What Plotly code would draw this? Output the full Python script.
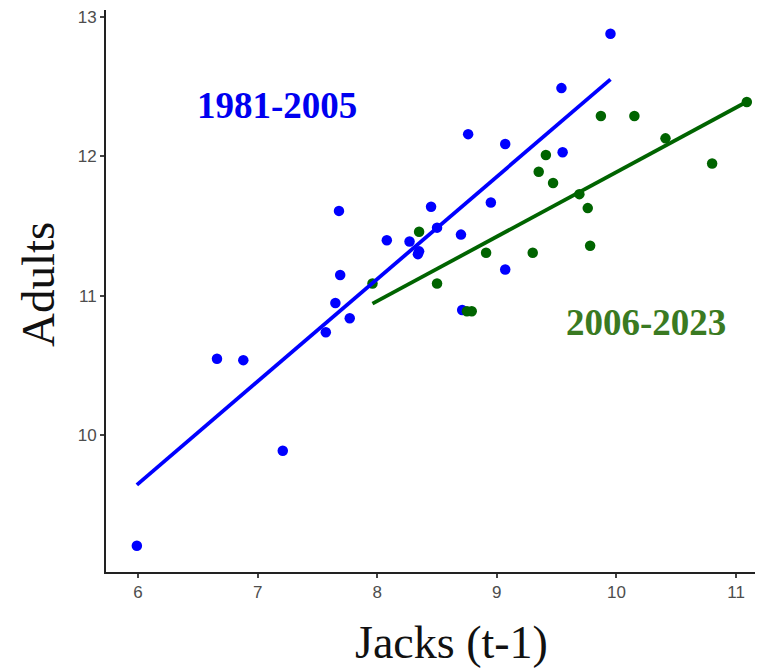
import numpy as np
import plotly.graph_objects as go

# 1981-2005 (blue)
jacks_early = [5.99, 6.66, 6.88, 7.21, 7.57, 7.65, 7.68, 7.69, 7.77, 8.08, 8.27, 8.35, 8.34,
               8.45, 8.50, 8.70, 8.71, 8.76, 8.95, 9.07, 9.07, 9.54, 9.55, 9.95]
adults_early = [9.21, 10.55, 10.54, 9.89, 10.74, 10.95, 11.61, 11.15, 10.84, 11.40, 11.39, 11.32, 11.30,
                11.64, 11.49, 11.44, 10.90, 12.16, 11.67, 12.09, 11.19, 12.49, 12.03, 12.88]

# 2006-2023 (green)
jacks_late = [7.96, 8.35, 8.50, 8.75, 8.79, 8.91, 9.30, 9.35, 9.41, 9.47, 9.69, 9.76, 9.78,
              9.87, 10.15, 10.41, 10.80, 11.09]
adults_late = [11.09, 11.46, 11.09, 10.89, 10.89, 11.31, 11.31, 11.89, 12.01, 11.81, 11.73, 11.63, 11.36,
               12.29, 12.29, 12.13, 11.95, 12.39]

x_ticks = [6, 7, 8, 9, 10, 11]
y_ticks = [10, 11, 12, 13]

label_early = "1981-2005"
label_late = "2006-2023"

BLUE = "#0000FF"
GREEN = "#006400"

# figure is drawn inside the page body, which has an 8px margin
W, H = 755, 661
ML, MR, MT, MB = 98, 0, 0, 97
PW, PH = W - ML - MR, H - MT - MB


def paper_xy(page_x, page_y):
    fx, fy = page_x - 8, page_y - 8
    return (fx - ML) / PW, (H - MB - fy) / PH


def fit_line(x, y):
    b, a = np.polyfit(x, y, 1)
    xs = np.array([min(x), max(x)])
    return xs, a + b * xs


fig = go.Figure()

for xs, ys, col in [(jacks_early, adults_early, BLUE), (jacks_late, adults_late, GREEN)]:
    fig.add_trace(go.Scatter(x=xs, y=ys, mode="markers",
                             marker=dict(color=col, size=10.5, line=dict(width=0)),
                             showlegend=False, cliponaxis=False))

for xs, ys, col in [(jacks_early, adults_early, BLUE), (jacks_late, adults_late, GREEN)]:
    lx, ly = fit_line(xs, ys)
    fig.add_trace(go.Scatter(x=lx, y=ly, mode="lines",
                             line=dict(color=col, width=3.8),
                             showlegend=False))

px_, py_ = paper_xy(277, 104)
fig.add_annotation(xref="paper", yref="paper", x=px_, y=py_, text="<b>%s</b>" % label_early,
                   showarrow=False,
                   font=dict(family="Liberation Serif", size=37, color="#0000F0"),
                   xanchor="center", yanchor="middle")
px_, py_ = paper_xy(646, 322)
fig.add_annotation(xref="paper", yref="paper", x=px_, y=py_, text="<b>%s</b>" % label_late,
                   showarrow=False,
                   font=dict(family="Liberation Serif", size=37, color="#3A7A22"),
                   xanchor="center", yanchor="middle")

# axis titles
px_, py_ = paper_xy(451, 643)
fig.add_annotation(xref="paper", yref="paper", x=px_, y=py_,
                   text="Jacks (t-1)", showarrow=False,
                   font=dict(family="Liberation Serif", size=46, color="#111111"),
                   xanchor="center", yanchor="middle")
px_, py_ = paper_xy(38, 284)
fig.add_annotation(xref="paper", yref="paper", x=px_, y=py_,
                   text="Adults", showarrow=False, textangle=-90,
                   font=dict(family="Liberation Serif", size=47, color="#111111"),
                   xanchor="center", yanchor="middle")

axis_common = dict(showgrid=False, zeroline=False, showline=True, linecolor="#222222",
                   linewidth=2, ticks="outside", ticklen=4, tickwidth=1.5, tickcolor="#444444",
                   ticklabeloverflow="allow",
                   tickfont=dict(family="Liberation Sans", size=17, color="#4D4D4D"))

fig.update_xaxes(range=[5.732, 5.732 + PW / 119.6], tickvals=x_ticks,
                 ticktext=[str(v) for v in x_ticks], **axis_common)
fig.update_yaxes(range=[13.05 - PH / 140.0, 13.05], tickvals=y_ticks,
                 ticktext=[str(v) for v in y_ticks], **axis_common)

fig.update_layout(width=W, height=H, margin=dict(l=ML, r=MR, t=MT, b=MB),
                  plot_bgcolor="white", paper_bgcolor="white")

fig.write_html("out.html")
